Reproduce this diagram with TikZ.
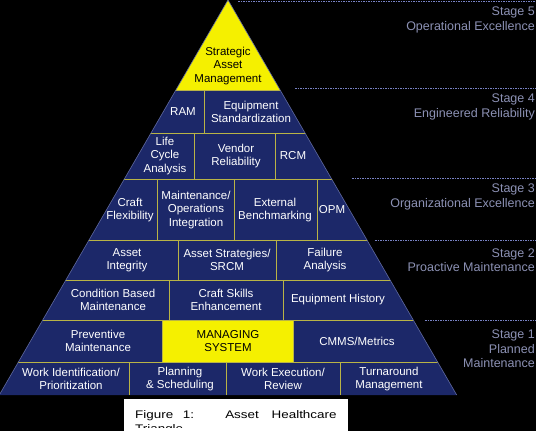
\documentclass[tikz,border=0pt]{standalone}
\usepackage{fontspec}
\setmainfont{Liberation Sans}
\definecolor{navy}{RGB}{28,40,105}
\definecolor{capyellow}{RGB}{245,240,0}
\definecolor{sepline}{RGB}{185,180,70}
\definecolor{stagetext}{RGB}{140,145,180}
\definecolor{stageline}{RGB}{120,130,195}
\definecolor{edgeline}{RGB}{95,105,160}
\begin{document}
\begin{tikzpicture}[x=1pt,y=-1pt,
  cell/.style={text=white,align=center,inner sep=0pt,font=\fontsize{11.5}{13.3}\selectfont},
  yellowcell/.style={cell,text=black},
  stagelabel/.style={text=stagetext,align=right,anchor=east,inner sep=0pt,font=\fontsize{12.5}{14.5}\selectfont},
  stagerule/.style={draw=stageline,line width=1pt,dash pattern=on 1.5pt off 1pt},
  divider/.style={draw=sepline,line width=1pt},
  captiontext/.style={text=black,inner sep=0pt,anchor=base west,font=\fontsize{11}{14}\selectfont}]
\fill[black] (0,0) rectangle (536,431);
\useasboundingbox (0,0) rectangle (536,431);
\coordinate (apex) at (228,0);
\coordinate (bl) at (-0.7,395);
\coordinate (br) at (456.7,395);
\fill[navy] (apex) -- (br) -- (bl) -- cycle;
\begin{scope}
  \clip (apex) -- (br) -- (bl) -- cycle;
  \fill[capyellow] (0,0) rectangle (536,90);
  \fill[capyellow] (162,320) rectangle (293,362);
  \foreach \yy in {90,133,179,240,280,320,362} \draw[divider] (0,\yy) -- (536,\yy);
  \draw[divider] (204,90) -- (204,133);
  \draw[divider] (194,133) -- (194,179);
  \draw[divider] (275,133) -- (275,179);
  \draw[divider] (157,179) -- (157,240);
  \draw[divider] (234,179) -- (234,240);
  \draw[divider] (317,179) -- (317,240);
  \draw[divider] (178,240) -- (178,280);
  \draw[divider] (276,240) -- (276,280);
  \draw[divider] (169,280) -- (169,320);
  \draw[divider] (283,280) -- (283,320);
  \draw[divider] (162,320) -- (162,362);
  \draw[divider] (293,320) -- (293,362);
  \draw[divider] (129,362) -- (129,395);
  \draw[divider] (226,362) -- (226,395);
  \draw[divider] (340,362) -- (340,395);
\end{scope}
\draw[edgeline,line width=0.6pt] (bl) -- (apex) -- (br);
% stage rules
\draw[stagerule] (238,1) -- (536,1);
\draw[stagerule] (295,88) -- (536,88);
\draw[stagerule] (352,178) -- (536,178);
\draw[stagerule] (375,240) -- (536,240);
\draw[stagerule] (425,320) -- (536,320);
% stage labels
\node[stagelabel] (s5) at (535,20) {Stage 5\\Operational Excellence};
\node[stagelabel] (s4) at (535,107) {Stage 4\\Engineered Reliability};
\node[stagelabel] (s3) at (535,197) {Stage 3\\Organizational Excellence};
\node[stagelabel] (s2) at (535,260) {Stage 2\\Proactive Maintenance};
\node[stagelabel] (s1) at (535,349) {Stage 1\\Planned\\Maintenance};
% cells
\node[yellowcell] (sam) at (228,66) {Strategic\\Asset\\Management};
\node[cell] (ram) at (183,112) {RAM};
\node[cell] (eqs) at (251,112) {Equipment\\Standardization};
\node[cell] (lca) at (165,156) {Life\\Cycle\\Analysis};
\node[cell] (vr) at (236,156) {Vendor\\Reliability};
\node[cell] (rcm) at (293,156) {RCM};
\node[cell] (cf) at (130,210) {Craft\\Flexibility};
\node[cell] (moi) at (196,210) {Maintenance/\\Operations\\Integration};
\node[cell] (eb) at (275,210) {External\\Benchmarking};
\node[cell] (opm) at (332,210) {OPM};
\node[cell] (ai) at (127,260) {Asset\\Integrity};
\node[cell] (as) at (227,260) {Asset Strategies/\\SRCM};
\node[cell] (fa) at (325,260) {Failure\\Analysis};
\node[cell] (cbm) at (113,300) {Condition Based\\Maintenance};
\node[cell] (cse) at (226,300) {Craft Skills\\Enhancement};
\node[cell] (eh) at (338,300) {Equipment History};
\node[cell] (pm) at (98,341) {Preventive\\Maintenance};
\node[yellowcell] (ms) at (228,341) {MANAGING\\SYSTEM};
\node[cell] (cmms) at (357,341) {CMMS/Metrics};
\node[cell] (wip) at (71,379) {Work Identification/\\Prioritization};
\node[cell] (ps) at (180,379) {Planning\\\& Scheduling};
\node[cell] (wer) at (283,379) {Work Execution/\\Review};
\node[cell] (tm) at (389,379) {Turnaround\\Management};
% caption
\fill[white] (124,399) rectangle (348,431);
\node[captiontext] (cap1) at (135,418.3) {\scalebox{1.22}[1]{Figure\hspace{8pt}1:\hspace{25.5pt}Asset\hspace{10.5pt}Healthcare}};
\begin{scope}
  \clip (124,399) rectangle (348,427);
  \node[captiontext] (cap2) at (135,432.2) {\scalebox{1.22}[1]{Triangle}};
\end{scope}
\end{tikzpicture}
\end{document}
